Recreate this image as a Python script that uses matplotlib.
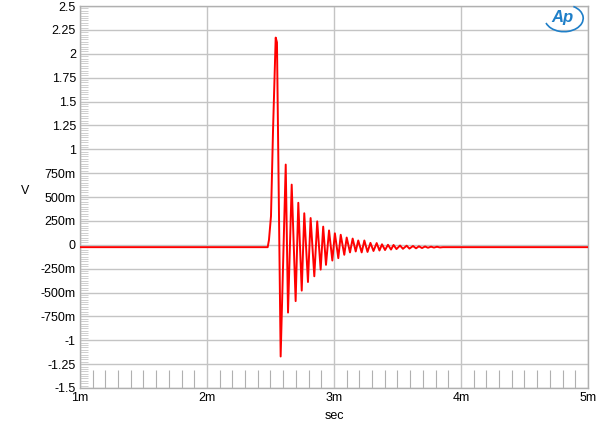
import matplotlib
matplotlib.use('Agg')
import matplotlib.pyplot as plt
from matplotlib.patches import Arc
import numpy as np

# impulse response, time in ms, level in V
t_ms = [1.0, 2.478, 2.488, 2.504, 2.520, 2.541, 2.551, 2.580,
        2.620, 2.638, 2.667, 2.698, 2.719, 2.746, 2.766, 2.795,
        2.816, 2.845, 2.868, 2.895, 2.915, 2.937, 2.961, 2.987,
        3.007, 3.034, 3.053, 3.081, 3.100, 3.126, 3.147, 3.171,
        3.191, 3.218, 3.239, 3.264, 3.287, 3.311, 3.336, 3.358,
        3.378, 3.402, 3.425, 3.449, 3.469, 3.492, 3.520, 3.543,
        3.572, 3.594, 3.622, 3.646, 3.669, 3.693, 3.717, 3.740,
        3.764, 3.787, 3.811, 3.835, 3.858, 5.0]
volts = [-0.025, -0.025, 0.05, 0.3, 1.2, 2.17, 2.12, -1.17,
         0.84, -0.71, 0.63, -0.59, 0.44, -0.48, 0.33, -0.39,
         0.28, -0.33, 0.245, -0.26, 0.19, -0.21, 0.15, -0.165,
         0.12, -0.14, 0.105, -0.105, 0.076, -0.08, 0.065, -0.07,
         0.045, -0.08, 0.045, -0.075, 0.02, -0.065, 0.018, -0.06,
         0.005, -0.055, 0.0, -0.05, -0.002, -0.045, -0.008, -0.042,
         -0.01, -0.04, -0.013, -0.037, -0.016, -0.034, -0.018, -0.031,
         -0.02, -0.029, -0.021, -0.028, -0.025, -0.025]

x_ticks = [1, 2, 3, 4, 5]
x_labels = ['1m', '2m', '3m', '4m', '5m']
y_ticks = [-1.5, -1.25, -1, -0.75, -0.5, -0.25, 0, 0.25, 0.5, 0.75,
           1, 1.25, 1.5, 1.75, 2, 2.25, 2.5]
y_labels = ['-1.5', '-1.25', '-1', '-750m', '-500m', '-250m', '0',
            '250m', '500m', '750m', '1', '1.25', '1.5', '1.75', '2',
            '2.25', '2.5']

plt.rcParams['font.family'] = ['Liberation Sans', 'DejaVu Sans']

fig = plt.figure(figsize=(6.0, 4.34), dpi=100)
ax = fig.add_axes([0.1333, 0.106, 0.8467, 0.880])

ax.plot(t_ms, volts, color='#ff0000', linewidth=1.4, zorder=3)

ax.set_xlim(1, 5)
ax.set_ylim(-1.5, 2.5)
ax.set_xticks(x_ticks)
ax.set_xticklabels(x_labels, fontsize=9)
ax.set_yticks(y_ticks)
ax.set_yticklabels(y_labels, fontsize=9)
ax.tick_params(axis='both', which='major', length=0, pad=3)

ax.set_xticks(np.arange(1.1, 5.0, 0.1), minor=True)
ax.set_yticks(np.arange(-1.5, 2.5, 0.025), minor=True)
ax.tick_params(axis='x', which='minor', direction='in', length=13,
               width=0.8, color='#b0b0b0')
ax.tick_params(axis='y', which='minor', direction='in', length=6,
               width=0.6, color='#c8c8c8')

ax.grid(True, which='major', color='#c4c4c4', linewidth=1.0, zorder=0)
for s in ax.spines.values():
    s.set_color('#b0b0b0')
    s.set_linewidth(1.0)

ax.set_xlabel('sec', fontsize=9, labelpad=4)
ax.set_ylabel('V', fontsize=9, rotation=0, labelpad=0)
ax.yaxis.set_label_coords(-0.108, 0.5)

# AP logo
fig.text(0.938, 0.960, 'Ap', color='#1f7fc8', fontsize=12, style='italic',
         fontweight='bold', ha='center', va='center')
fig.add_artist(Arc((0.940, 0.958), 0.064, 0.062, theta1=-160, theta2=60,
                   transform=fig.transFigure, color='#1f7fc8', linewidth=1.2))

fig.savefig('out.png', dpi=100)
